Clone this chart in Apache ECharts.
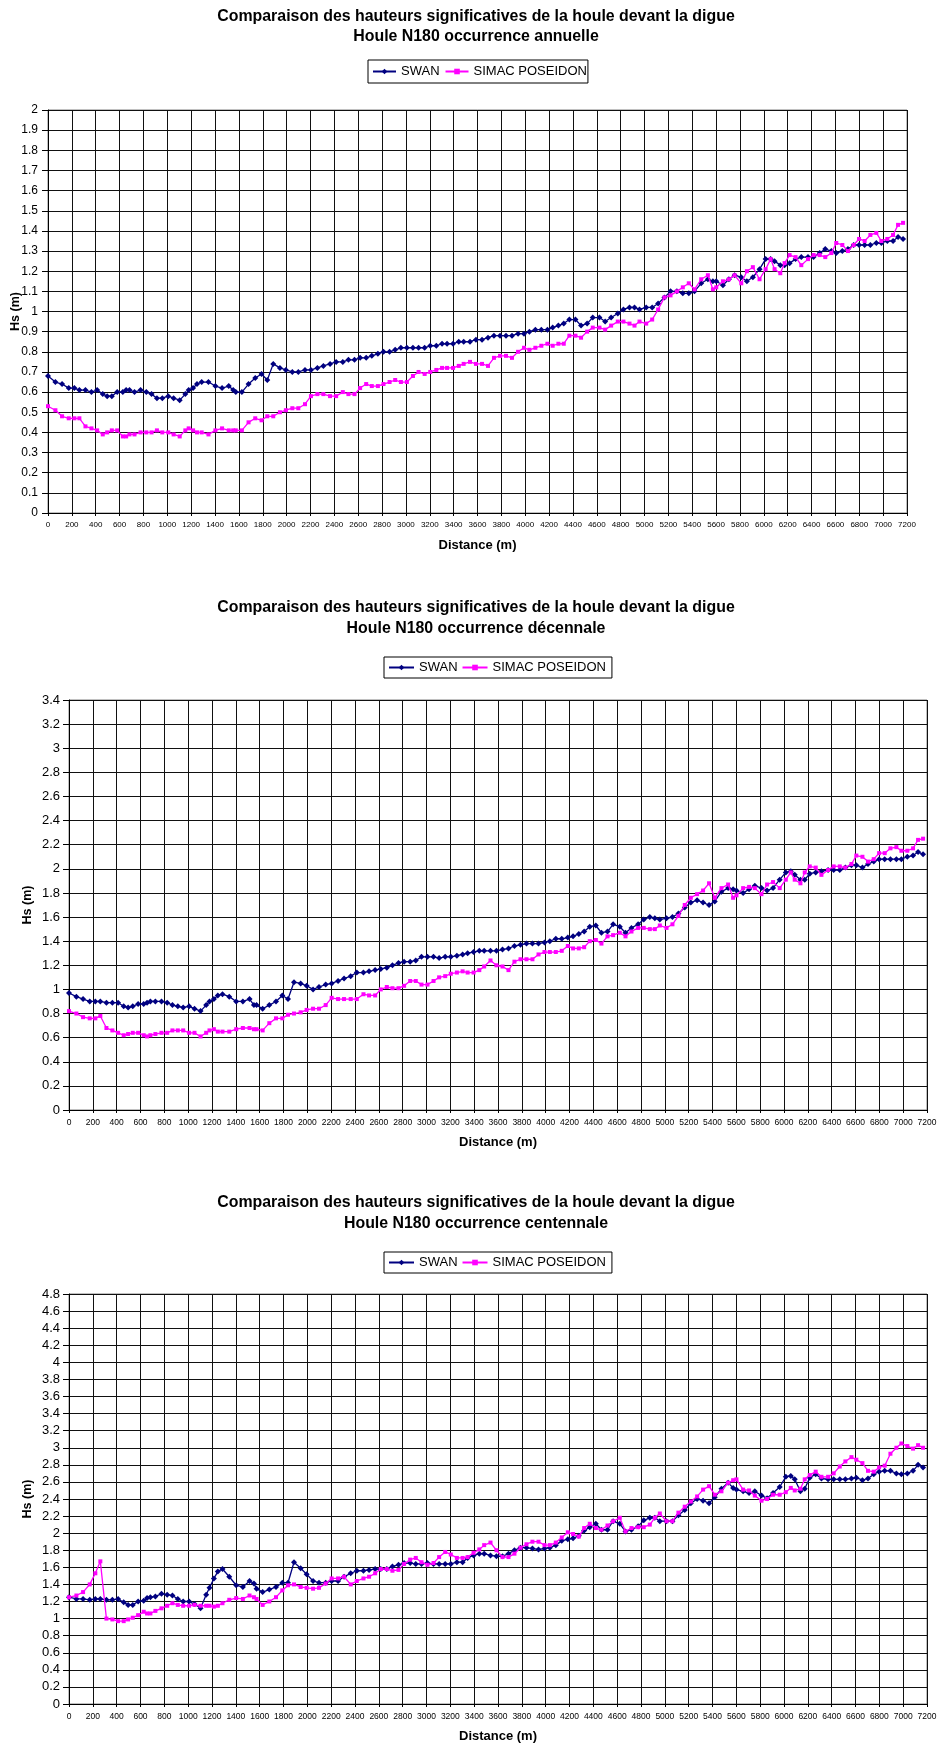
<!DOCTYPE html>
<html>
<head>
<meta charset="utf-8">
<script src="https://cdn.jsdelivr.net/npm/echarts@6/dist/echarts.min.js"></script>
<style>
html,body{margin:0;padding:0;background:#fff;}
#c{width:939px;height:1746px;}
</style>
</head>
<body>
<div id="c"></div>
<script>
// ---------- DATA ----------
const distances = [
0,62,118,174,221,263,314,364,412,459,
496,535,580,627,655,683,725,776,824,868,
913,958,1008,1053,1104,1151,1179,1216,1249,1288,
1345,1403,1459,1515,1552,1574,1625,1681,1737,1790,
1838,1888,1944,1994,2048,2098,2154,2204,2258,2308,
2364,2415,2471,2518,2569,2616,2667,2714,2765,2812,
2863,2910,2958,3008,3059,3106,3157,3204,3255,3303,
3345,3395,3443,3484,3537,3587,3638,3688,3738,3789,
3839,3889,3940,3990,4035,4085,4135,4186,4230,4278,
4323,4370,4421,4468,4519,4566,4622,4670,4720,4776,
4823,4874,4916,4958,5014,5064,5114,5167,5218,5271,
5321,5371,5419,5475,5531,5573,5601,5657,5707,5755,
5811,5858,5908,5964,6015,6057,6090,6138,6174,6216,
6266,6314,6370,6417,6468,6515,6566,6607,6658,6705,
6753,6798,6845,6893,6943,6985,7035,7083,7125,7167];

const swanAnnuelle = [
0.68,0.65,0.64,0.62,0.62,0.61,0.61,0.60,0.61,0.59,
0.58,0.58,0.60,0.60,0.61,0.61,0.60,0.61,0.60,0.59,
0.57,0.57,0.58,0.57,0.56,0.59,0.61,0.62,0.64,0.65,
0.65,0.63,0.62,0.63,0.61,0.60,0.60,0.64,0.67,0.69,
0.66,0.74,0.72,0.71,0.70,0.70,0.71,0.71,0.72,0.73,
0.74,0.75,0.75,0.76,0.76,0.77,0.77,0.78,0.79,0.80,
0.80,0.81,0.82,0.82,0.82,0.82,0.82,0.83,0.83,0.84,
0.84,0.84,0.85,0.85,0.85,0.86,0.86,0.87,0.88,0.88,
0.88,0.88,0.89,0.89,0.90,0.91,0.91,0.91,0.92,0.93,
0.94,0.96,0.96,0.93,0.94,0.97,0.97,0.95,0.97,0.99,
1.01,1.02,1.02,1.01,1.02,1.02,1.04,1.07,1.10,1.10,
1.09,1.09,1.10,1.14,1.16,1.15,1.15,1.13,1.16,1.18,
1.17,1.15,1.17,1.21,1.26,1.26,1.25,1.23,1.23,1.24,
1.26,1.27,1.27,1.27,1.29,1.31,1.30,1.29,1.30,1.31,
1.33,1.33,1.33,1.33,1.34,1.34,1.35,1.35,1.37,1.36];

const simacAnnuelle = [
0.53,0.51,0.48,0.47,0.47,0.47,0.43,0.42,0.41,0.39,
0.40,0.41,0.41,0.38,0.38,0.39,0.39,0.40,0.40,0.40,
0.41,0.40,0.40,0.39,0.38,0.41,0.42,0.41,0.40,0.40,
0.39,0.41,0.42,0.41,0.41,0.41,0.41,0.45,0.47,0.46,
0.48,0.48,0.50,0.51,0.52,0.52,0.54,0.58,0.59,0.59,
0.58,0.58,0.60,0.59,0.59,0.62,0.64,0.63,0.63,0.64,
0.65,0.66,0.65,0.65,0.68,0.70,0.69,0.70,0.71,0.72,
0.72,0.72,0.73,0.74,0.75,0.74,0.74,0.73,0.77,0.78,
0.78,0.77,0.80,0.82,0.81,0.82,0.83,0.84,0.83,0.84,
0.84,0.88,0.88,0.87,0.90,0.92,0.92,0.91,0.93,0.95,
0.95,0.94,0.93,0.95,0.94,0.96,1.01,1.07,1.08,1.10,
1.12,1.14,1.11,1.16,1.18,1.11,1.12,1.15,1.16,1.18,
1.14,1.20,1.22,1.16,1.21,1.26,1.21,1.19,1.24,1.28,
1.27,1.23,1.26,1.28,1.28,1.27,1.29,1.34,1.33,1.30,
1.33,1.36,1.35,1.38,1.39,1.35,1.36,1.38,1.43,1.44];

const swanDecennale = [
0.97,0.94,0.92,0.90,0.90,0.90,0.89,0.89,0.89,0.86,
0.85,0.86,0.88,0.88,0.89,0.90,0.90,0.90,0.89,0.87,
0.86,0.85,0.86,0.84,0.82,0.87,0.90,0.92,0.95,0.96,
0.94,0.90,0.90,0.92,0.87,0.87,0.84,0.87,0.90,0.95,
0.92,1.06,1.05,1.03,1.00,1.02,1.04,1.05,1.07,1.09,
1.11,1.14,1.14,1.15,1.16,1.17,1.18,1.20,1.22,1.23,
1.23,1.24,1.27,1.27,1.27,1.26,1.27,1.27,1.28,1.29,
1.30,1.31,1.32,1.32,1.32,1.32,1.33,1.34,1.36,1.37,
1.38,1.38,1.38,1.39,1.40,1.42,1.42,1.43,1.44,1.46,
1.48,1.52,1.53,1.47,1.48,1.54,1.52,1.47,1.51,1.54,
1.58,1.60,1.59,1.58,1.59,1.60,1.63,1.68,1.72,1.74,
1.72,1.70,1.73,1.81,1.84,1.83,1.82,1.80,1.83,1.86,
1.84,1.82,1.84,1.91,1.97,1.98,1.95,1.91,1.91,1.96,
1.97,1.98,1.99,1.99,1.99,2.01,2.03,2.03,2.01,2.04,
2.06,2.08,2.08,2.08,2.08,2.08,2.10,2.11,2.14,2.12];

const simacDecennale = [
0.82,0.80,0.77,0.76,0.76,0.78,0.68,0.66,0.64,0.62,
0.63,0.64,0.64,0.62,0.61,0.62,0.63,0.64,0.64,0.66,
0.66,0.66,0.64,0.64,0.61,0.64,0.66,0.67,0.65,0.65,
0.65,0.67,0.68,0.68,0.67,0.67,0.66,0.72,0.76,0.76,
0.79,0.80,0.81,0.83,0.84,0.84,0.87,0.93,0.92,0.92,
0.92,0.92,0.96,0.95,0.95,1.00,1.02,1.01,1.01,1.03,
1.07,1.07,1.04,1.04,1.07,1.10,1.11,1.13,1.14,1.15,
1.14,1.14,1.16,1.19,1.24,1.20,1.19,1.16,1.23,1.25,
1.25,1.25,1.29,1.31,1.31,1.31,1.32,1.36,1.34,1.34,
1.35,1.40,1.41,1.38,1.44,1.45,1.47,1.44,1.48,1.51,
1.51,1.50,1.50,1.53,1.51,1.54,1.61,1.70,1.76,1.79,
1.82,1.88,1.76,1.84,1.87,1.76,1.78,1.84,1.85,1.84,
1.79,1.87,1.89,1.84,1.91,1.97,1.91,1.88,1.97,2.02,
2.01,1.95,1.99,2.02,2.02,2.01,2.04,2.11,2.10,2.06,
2.08,2.13,2.13,2.17,2.18,2.15,2.15,2.17,2.24,2.25];

const swanCentennale = [
1.25,1.23,1.23,1.22,1.23,1.23,1.22,1.22,1.23,1.19,
1.16,1.16,1.20,1.21,1.24,1.25,1.26,1.29,1.28,1.27,
1.23,1.20,1.20,1.17,1.12,1.28,1.36,1.47,1.55,1.58,
1.49,1.39,1.37,1.44,1.41,1.35,1.31,1.34,1.37,1.42,
1.42,1.66,1.59,1.52,1.44,1.42,1.42,1.44,1.44,1.49,
1.53,1.56,1.56,1.57,1.58,1.58,1.58,1.61,1.63,1.65,
1.65,1.64,1.64,1.65,1.64,1.64,1.64,1.64,1.66,1.66,
1.71,1.74,1.76,1.76,1.74,1.73,1.73,1.76,1.80,1.83,
1.83,1.82,1.81,1.82,1.83,1.86,1.91,1.93,1.94,1.97,
2.03,2.07,2.11,2.04,2.04,2.14,2.11,2.02,2.04,2.08,
2.15,2.18,2.18,2.14,2.14,2.14,2.21,2.27,2.35,2.40,
2.38,2.35,2.42,2.52,2.59,2.53,2.51,2.49,2.47,2.49,
2.44,2.41,2.47,2.54,2.66,2.67,2.63,2.49,2.52,2.65,
2.69,2.64,2.63,2.63,2.63,2.63,2.64,2.65,2.62,2.64,
2.69,2.72,2.73,2.73,2.70,2.69,2.70,2.73,2.80,2.77];

const simacCentennale = [
1.25,1.27,1.31,1.40,1.53,1.67,1.00,0.99,0.97,0.97,
0.99,1.01,1.04,1.08,1.06,1.06,1.09,1.12,1.15,1.18,
1.16,1.15,1.15,1.16,1.15,1.15,1.15,1.14,1.15,1.18,
1.22,1.24,1.23,1.27,1.25,1.23,1.16,1.20,1.25,1.33,
1.39,1.40,1.37,1.36,1.35,1.36,1.41,1.47,1.47,1.49,
1.40,1.44,1.47,1.49,1.53,1.58,1.58,1.56,1.57,1.64,
1.69,1.71,1.66,1.63,1.65,1.72,1.78,1.75,1.71,1.71,
1.72,1.77,1.81,1.86,1.89,1.80,1.72,1.72,1.76,1.83,
1.87,1.90,1.90,1.86,1.86,1.89,1.95,2.01,1.99,1.96,
2.06,2.11,2.06,2.04,2.09,2.14,2.18,2.02,2.06,2.07,
2.07,2.10,2.18,2.23,2.14,2.14,2.24,2.31,2.37,2.43,
2.51,2.55,2.45,2.49,2.59,2.62,2.63,2.51,2.50,2.44,
2.38,2.40,2.45,2.45,2.48,2.53,2.50,2.52,2.63,2.68,
2.72,2.66,2.66,2.70,2.78,2.84,2.89,2.86,2.82,2.73,
2.72,2.77,2.79,2.93,3.00,3.05,3.02,2.99,3.03,3.00];

const seriesNames = ['SWAN', 'SIMAC POSEIDON'];
const titleLine1 = 'Comparaison des hauteurs significatives de la houle devant la digue';
const subtitles = ['Houle N180 occurrence annuelle', 'Houle N180 occurrence décennale', 'Houle N180 occurrence centennale'];
const xAxisName = 'Distance (m)';
const yAxisName = 'Hs (m)';
const xMax = 7200, xStep = 200;
const yMaxes = [2, 3.4, 4.8];
const ySteps = [0.1, 0.2, 0.2];
const swanSets = [swanAnnuelle, swanDecennale, swanCentennale];
const simacSets = [simacAnnuelle, simacDecennale, simacCentennale];

// ---------- LAYOUT ----------
const FONT = "'Liberation Sans', Arial, Helvetica, sans-serif";
const layout = [
  {grid:{left:48, top:110, width:859, height:403}, titleTop:6.5, titleLH:20,
   legend:{left:368, top:60, padding:[4,1,4,4], itemWidth:23, itemGap:5},
   yFont:12, yMargin:10, xFont:8, xMargin:8, yNameGap:26},
  {grid:{left:69, top:700, width:858, height:410}, titleTop:597, titleLH:21,
   legend:{left:384, top:657, padding:[3,6,3,4], itemWidth:25, itemGap:4},
   yFont:13, yMargin:9, xFont:8.5, xMargin:8, yNameGap:35},
  {grid:{left:69, top:1294, width:858, height:410}, titleTop:1192, titleLH:21,
   legend:{left:384, top:1252, padding:[3,6,3,4], itemWidth:25, itemGap:4},
   yFont:13, yMargin:9, xFont:8.5, xMargin:8, yNameGap:35}
];

const chart = echarts.init(document.getElementById('c'), null, {renderer:'canvas'});

const option = {
  animation:false,
  backgroundColor:'#fff',
  textStyle:{fontFamily:FONT},
  title:[], legend:[], grid:[], xAxis:[], yAxis:[], series:[]
};

layout.forEach((L, i) => {
  option.title.push({
    text: titleLine1 + '\n' + subtitles[i],
    left: 476, top: L.titleTop, textAlign:'center', padding:0,
    textStyle:{fontFamily:FONT, fontSize:15.9, fontWeight:'bold', color:'#000', lineHeight:L.titleLH}
  });
  option.legend.push({
    data: seriesNames, left:L.legend.left, top:L.legend.top, orient:'horizontal',
    padding:L.legend.padding, itemGap:L.legend.itemGap, itemWidth:L.legend.itemWidth, itemHeight:7,
    borderColor:'#000', borderWidth:1, backgroundColor:'#fff', selectedMode:false,
    textStyle:{fontFamily:FONT, fontSize:13, color:'#000', lineHeight:15}
  });
  option.grid.push(Object.assign({show:true, borderColor:'#808080', borderWidth:1, backgroundColor:'#fff', outerBoundsMode:'none', containLabel:false}, L.grid));
  option.xAxis.push({
    type:'value', gridIndex:i, min:0, max:xMax, interval:xStep,
    name:xAxisName, nameLocation:'middle', nameGap:26, nameMoveOverlap:false,
    nameTextStyle:{fontFamily:FONT, fontSize:13, fontWeight:'bold', color:'#000'},
    axisLine:{show:true, onZero:false, lineStyle:{color:'#000', width:1}},
    axisTick:{show:true, inside:false, length:3, lineStyle:{color:'#000'}},
    axisLabel:{fontFamily:FONT, fontSize:L.xFont, color:'#000', margin:L.xMargin, showMinLabel:true, showMaxLabel:true,
               formatter:(v) => String(v)},
    splitLine:{show:true, lineStyle:{color:'#111', width:1}}
  });
  option.yAxis.push({
    type:'value', gridIndex:i, min:0, max:yMaxes[i], interval:ySteps[i],
    name:yAxisName, nameLocation:'middle', nameGap:L.yNameGap, nameRotate:90, nameMoveOverlap:false,
    nameTextStyle:{fontFamily:FONT, fontSize:12.5, fontWeight:'bold', color:'#000'},
    axisLine:{show:true, onZero:false, lineStyle:{color:'#000', width:1}},
    axisTick:{show:true, inside:false, length:6, lineStyle:{color:'#000'}},
    axisLabel:{fontFamily:FONT, fontSize:L.yFont, color:'#000', margin:L.yMargin, showMinLabel:true, showMaxLabel:true},
    splitLine:{show:true, lineStyle:{color:'#111', width:1}}
  });
  option.series.push({
    name:seriesNames[0], type:'line', xAxisIndex:i, yAxisIndex:i,
    data: distances.map((d, k) => [d, swanSets[i][k]]),
    symbol:'diamond', symbolSize:6, showSymbol:true, showAllSymbol:true,
    lineStyle:{color:'#000080', width:1.3}, itemStyle:{color:'#000080'},
    emphasis:{disabled:true}, z:3
  });
  option.series.push({
    name:seriesNames[1], type:'line', xAxisIndex:i, yAxisIndex:i,
    data: distances.map((d, k) => [d, simacSets[i][k]]),
    symbol:'rect', symbolSize:4, showSymbol:true, showAllSymbol:true,
    lineStyle:{color:'#FF00FF', width:1.3}, itemStyle:{color:'#FF00FF'},
    emphasis:{disabled:true}, z:4
  });
});

chart.setOption(option);
</script>
</body>
</html>
